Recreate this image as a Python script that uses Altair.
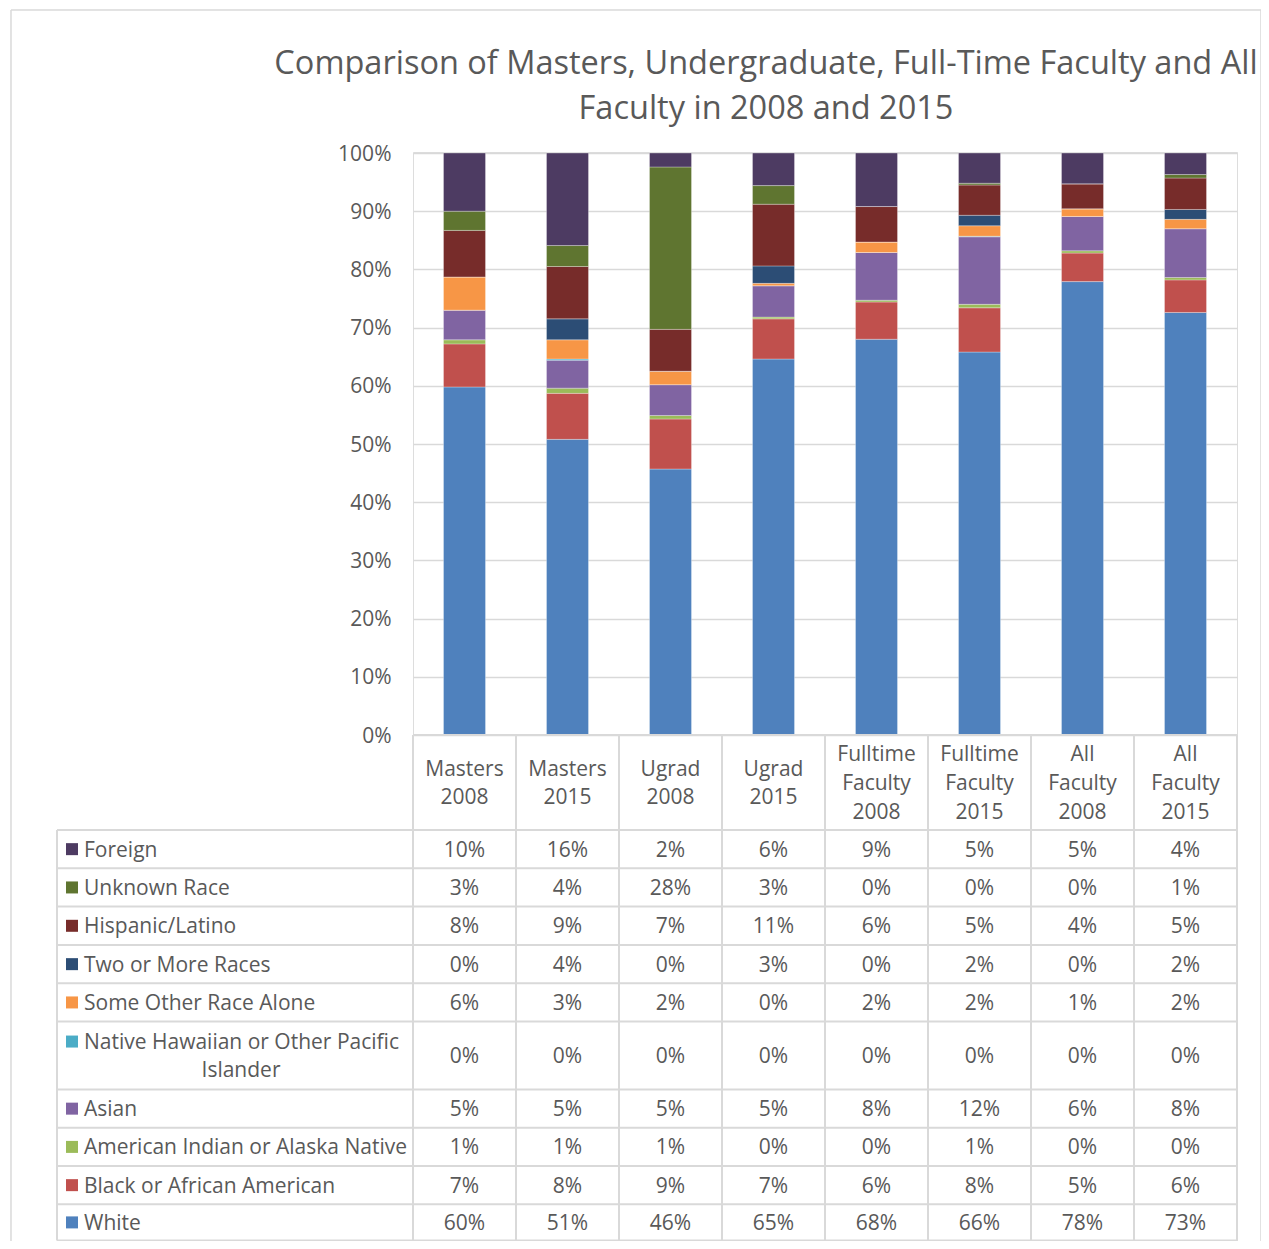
import altair as alt
import pandas as pd
import numpy as np

# ---------------- data ----------------
categories = ["Masters 2008", "Masters 2015", "Ugrad 2008", "Ugrad 2015",
              "Fulltime Faculty 2008", "Fulltime Faculty 2015",
              "All Faculty 2008", "All Faculty 2015"]

# stacking order, bottom -> top
races = ["White", "Black or African American", "American Indian or Alaska Native",
         "Asian", "Native Hawaiian or Other Pacific Islander", "Some Other Race Alone",
         "Two or More Races", "Hispanic/Latino", "Unknown Race", "Foreign"]
colors = ["#4F81BD", "#C0504D", "#9BBB59", "#8064A2", "#4BACC6", "#F79646",
          "#2C4D75", "#772C2A", "#5F7530", "#4D3B62"]

white   = [59.8, 50.8, 45.7, 64.6, 68.0, 65.8, 77.9, 72.6]
black   = [7.4, 7.9, 8.6, 6.9, 6.4, 7.6, 4.9, 5.6]
amind   = [0.7, 0.9, 0.6, 0.3, 0.3, 0.6, 0.4, 0.4]
asian   = [5.1, 4.8, 5.3, 5.4, 8.2, 11.6, 5.9, 8.4]
nhpi    = [0.0, 0.2, 0.0, 0.0, 0.0, 0.1, 0.0, 0.0]
other   = [5.7, 3.3, 2.3, 0.4, 1.8, 1.8, 1.3, 1.6]
two     = [0.0, 3.6, 0.0, 3.0, 0.0, 1.8, 0.0, 1.7]
hisp    = [8.0, 9.0, 7.2, 10.6, 6.1, 5.2, 4.3, 5.4]
unknown = [3.3, 3.6, 27.9, 3.2, 0.0, 0.3, 0.0, 0.6]
foreign = [10.0, 15.9, 2.4, 5.6, 9.2, 5.2, 5.3, 3.7]

series = [white, black, amind, asian, nhpi, other, two, hisp, unknown, foreign]

title_lines = ["Comparison of Masters, Undergraduate, Full-Time Faculty and All",
               "Faculty in 2008 and 2015"]

# ---------------- layout (page pixels) ----------------
OX, OY = 413, 152            # plot-area origin on the page
W, H = 824, 1089
TXT = "#595959"
LINE = "#d9d9d9"
FONT = "Open Sans"
FS = 21
LH = 28.8
DY = 1.5

# table rows, top -> bottom (reverse of stacking order)
table_order = races[::-1]
row_edges = [830, 868.3, 906.6, 945, 983.3, 1021.6, 1089.5, 1127.8, 1166, 1204.3, 1240.5]
row_centers = [(row_edges[i] + row_edges[i + 1]) / 2 for i in range(len(row_edges) - 1)]

# ---------------- frames ----------------
rows = []
for ri, (race, vals) in enumerate(zip(races, series)):
    for ci, cat in enumerate(categories):
        rows.append({"cat": cat, "race": race, "ri": ri, "value": vals[ci]})
bars_df = pd.DataFrame(rows)

cells = []
for r_i, race in enumerate(table_order):
    vals = series[races.index(race)]
    for ci, cat in enumerate(categories):
        cells.append({"cat": cat, "race": race,
                      "label": f"{int(np.floor(vals[ci] + 0.5))}%",
                      "y": row_centers[r_i] - OY})
cells_df = pd.DataFrame(cells)

leg_rows = []
for r_i, race in enumerate(table_order):
    yc = row_centers[r_i] - OY
    if race.startswith("Native Hawaiian"):
        leg_rows.append({"race": race, "label": "Native Hawaiian or Other Pacific",
                         "y": yc - 14, "ys": yc - 14})
    else:
        leg_rows.append({"race": race, "label": race, "y": yc, "ys": yc})
leg_df = pd.DataFrame(leg_rows)
leg2_df = pd.DataFrame([{"label": "Islander",
                         "y": row_centers[table_order.index(races[4])] - OY + 14}])

header_lines = [c.split(" ") for c in categories]
header_df = pd.DataFrame({
    "cat": categories,
    "label": ["\n".join(l) for l in header_lines],
    "y": [782.5 - OY - (len(l) - 1) * LH / 2 for l in header_lines],
})

title_df = pd.DataFrame({"label": title_lines, "y": [62 - OY, 107 - OY]})

hlines = [{"x1": 0, "x2": W, "y": 735 - OY}]
for e in row_edges:
    hlines.append({"x1": 57 - OX, "x2": W, "y": e - OY})
hlines_df = pd.DataFrame(hlines)
vlines_df = pd.DataFrame([{"x": 57 - OX, "y1": 830 - OY, "y2": 1240.5 - OY},
                          {"x": W, "y1": 735 - OY, "y2": 1240.5 - OY}])

band = alt.Scale(domain=categories, paddingInner=0, paddingOuter=0)
color = alt.Color("race:N", scale=alt.Scale(domain=races, range=colors), legend=None)

# ---------------- layers ----------------
bars = alt.Chart(bars_df).mark_bar(size=42, stroke="white", strokeWidth=0.6,
                                   strokeOpacity=0.5).encode(
    x=alt.X("cat:N", scale=band, axis=None),
    y=alt.Y("value:Q", stack="normalize",
            scale=alt.Scale(domain=[0, 1], range=[735 - OY, 153 - OY], nice=False),
            axis=alt.Axis(format=".0%", values=[i / 10 for i in range(11)],
                          grid=True, gridColor=LINE, gridWidth=1.5,
                          domain=False, ticks=False, labelFontSize=FS,
                          labelColor=TXT, labelFont=FONT, labelPadding=22,
                          labelOffset=1, title=None)),
    color=color,
    order=alt.Order("ri:Q", sort="ascending"),
)

hrules = alt.Chart(hlines_df).mark_rule(color=LINE, strokeWidth=2).encode(
    x=alt.X("x1:Q", scale=None, axis=None), x2="x2:Q",
    y=alt.Y("y:Q", scale=None, axis=None))

vrules_cat = alt.Chart(header_df).mark_rule(color=LINE, strokeWidth=2).encode(
    x=alt.X("cat:N", scale=band, axis=None, bandPosition=0),
    y=alt.value(735 - OY), y2=alt.value(1240.5 - OY))

vrules_px = alt.Chart(vlines_df).mark_rule(color=LINE, strokeWidth=2).encode(
    x=alt.X("x:Q", scale=None, axis=None),
    y=alt.Y("y1:Q", scale=None, axis=None), y2="y2:Q")

header = alt.Chart(header_df).mark_text(
    fontSize=FS, font=FONT, color=TXT, lineBreak="\n", lineHeight=LH,
    baseline="middle", align="center", dy=DY).encode(
    x=alt.X("cat:N", scale=band, axis=None, bandPosition=0.5),
    y=alt.Y("y:Q", scale=None, axis=None),
    text="label:N")

cell_text = alt.Chart(cells_df).mark_text(
    fontSize=FS, font=FONT, color=TXT, baseline="middle", align="center", dy=DY).encode(
    x=alt.X("cat:N", scale=band, axis=None, bandPosition=0.5),
    y=alt.Y("y:Q", scale=None, axis=None),
    text="label:N")

leg_sq = alt.Chart(leg_df).mark_square(size=144, opacity=1, filled=True).encode(
    x=alt.value(72 - OX),
    y=alt.Y("ys:Q", scale=None, axis=None),
    color=color)

leg_txt = alt.Chart(leg_df).mark_text(
    fontSize=FS, font=FONT, color=TXT, baseline="middle", align="left", dy=DY).encode(
    x=alt.value(84 - OX),
    y=alt.Y("y:Q", scale=None, axis=None),
    text="label:N")

leg_txt2 = alt.Chart(leg2_df).mark_text(
    fontSize=FS, font=FONT, color=TXT, baseline="middle", align="center", dy=DY).encode(
    x=alt.value(241 - OX),
    y=alt.Y("y:Q", scale=None, axis=None),
    text="label:N")

title = alt.Chart(title_df).mark_text(
    fontSize=32.5, font=FONT, color=TXT, baseline="middle", align="center", dy=2).encode(
    x=alt.value(766 - OX),
    y=alt.Y("y:Q", scale=None, axis=None),
    text="label:N")

frame = alt.Chart(title_df).mark_rect(filled=False, stroke=LINE, strokeWidth=1).encode(
    x=alt.value(11 - OX), x2=alt.value(1261 - OX),
    y=alt.value(10 - OY), y2=alt.value(1300 - OY))

chart = alt.layer(
    frame, bars, hrules, vrules_cat, vrules_px, header, cell_text,
    leg_sq, leg_txt, leg_txt2, title
).resolve_scale(x="independent", y="independent", color="shared").properties(
    width=W, height=H,
    autosize=alt.AutoSizeParams(type="none"),
    padding={"left": OX - 8, "top": OY - 8, "right": 24, "bottom": 0},
).configure_view(stroke=None).configure(background="white")

chart.save("out.html", embed_options={"renderer": "svg", "actions": False})
